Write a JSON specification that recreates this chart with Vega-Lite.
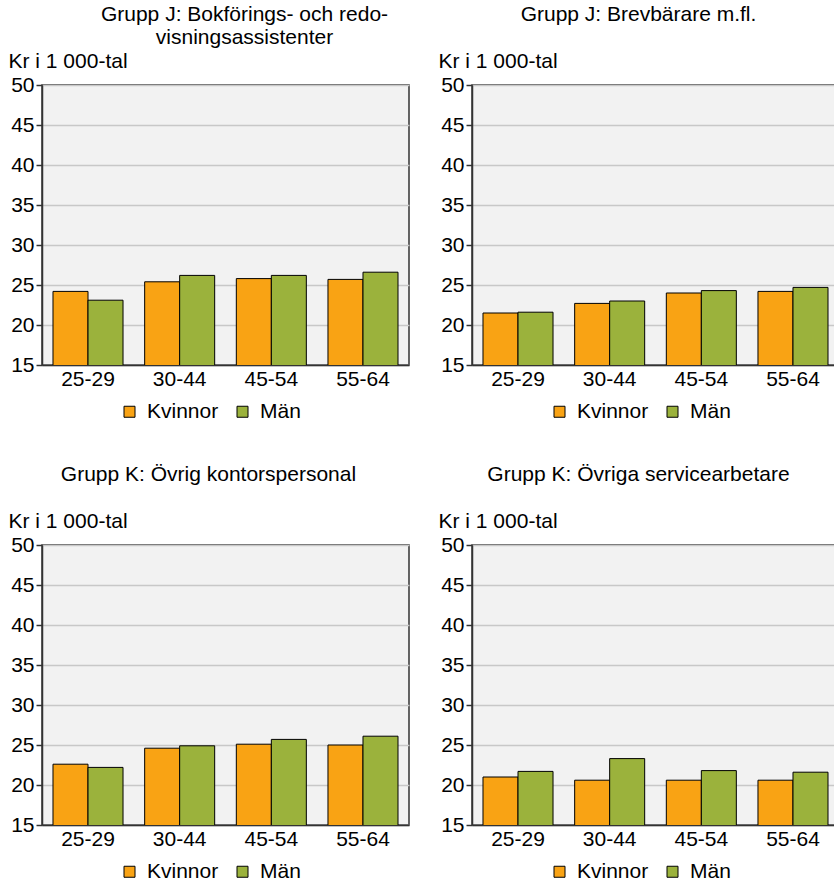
{
  "$schema": "https://vega.github.io/schema/vega-lite/v6.json",
  "padding": {"left": 7, "top": 3, "right": 0, "bottom": 0},
  "background": "white",
  "config": {
    "font": "Liberation Sans",
    "view": {"fill": "#F2F2F2", "stroke": "#333333", "strokeWidth": 1.5},
    "axis": {
      "labelFont": "Liberation Sans",
      "labelFontSize": 21,
      "labelColor": "#000000",
      "domainColor": "#333333",
      "domainWidth": 1.5,
      "tickColor": "#333333",
      "tickWidth": 1.5,
      "titleFont": "Liberation Sans",
      "titleFontSize": 21,
      "titleFontWeight": "normal",
      "titleColor": "#000000"
    },
    "axisY": {"gridColor": "#C8C8C8", "gridWidth": 1.5, "tickSize": 6, "labelPadding": 2},
    "axisX": {"grid": false, "ticks": false, "labelPadding": 3},
    "title": {
      "fontSize": 21,
      "fontWeight": "normal",
      "color": "#000000",
      "anchor": "middle",
      "frame": "bounds",
      "lineHeight": 23,
      "offset": 2
    },
    "legend": {
      "labelFontSize": 21,
      "labelColor": "#000000",
      "labelFont": "Liberation Sans"
    }
  },
  "data": {
    "values": [
      {"grupp": "J1", "alder": "25-29", "kon": "Kvinnor", "lon": 24.2},
      {"grupp": "J1", "alder": "25-29", "kon": "Män", "lon": 23.1},
      {"grupp": "J1", "alder": "30-44", "kon": "Kvinnor", "lon": 25.4},
      {"grupp": "J1", "alder": "30-44", "kon": "Män", "lon": 26.2},
      {"grupp": "J1", "alder": "45-54", "kon": "Kvinnor", "lon": 25.8},
      {"grupp": "J1", "alder": "45-54", "kon": "Män", "lon": 26.2},
      {"grupp": "J1", "alder": "55-64", "kon": "Kvinnor", "lon": 25.7},
      {"grupp": "J1", "alder": "55-64", "kon": "Män", "lon": 26.6},
      {"grupp": "J2", "alder": "25-29", "kon": "Kvinnor", "lon": 21.5},
      {"grupp": "J2", "alder": "25-29", "kon": "Män", "lon": 21.6},
      {"grupp": "J2", "alder": "30-44", "kon": "Kvinnor", "lon": 22.7},
      {"grupp": "J2", "alder": "30-44", "kon": "Män", "lon": 23.0},
      {"grupp": "J2", "alder": "45-54", "kon": "Kvinnor", "lon": 24.0},
      {"grupp": "J2", "alder": "45-54", "kon": "Män", "lon": 24.3},
      {"grupp": "J2", "alder": "55-64", "kon": "Kvinnor", "lon": 24.2},
      {"grupp": "J2", "alder": "55-64", "kon": "Män", "lon": 24.7},
      {"grupp": "K1", "alder": "25-29", "kon": "Kvinnor", "lon": 22.6},
      {"grupp": "K1", "alder": "25-29", "kon": "Män", "lon": 22.2},
      {"grupp": "K1", "alder": "30-44", "kon": "Kvinnor", "lon": 24.6},
      {"grupp": "K1", "alder": "30-44", "kon": "Män", "lon": 24.9},
      {"grupp": "K1", "alder": "45-54", "kon": "Kvinnor", "lon": 25.1},
      {"grupp": "K1", "alder": "45-54", "kon": "Män", "lon": 25.7},
      {"grupp": "K1", "alder": "55-64", "kon": "Kvinnor", "lon": 25.0},
      {"grupp": "K1", "alder": "55-64", "kon": "Män", "lon": 26.1},
      {"grupp": "K2", "alder": "25-29", "kon": "Kvinnor", "lon": 21.0},
      {"grupp": "K2", "alder": "25-29", "kon": "Män", "lon": 21.7},
      {"grupp": "K2", "alder": "30-44", "kon": "Kvinnor", "lon": 20.6},
      {"grupp": "K2", "alder": "30-44", "kon": "Män", "lon": 23.3},
      {"grupp": "K2", "alder": "45-54", "kon": "Kvinnor", "lon": 20.6},
      {"grupp": "K2", "alder": "45-54", "kon": "Män", "lon": 21.8},
      {"grupp": "K2", "alder": "55-64", "kon": "Kvinnor", "lon": 20.6},
      {"grupp": "K2", "alder": "55-64", "kon": "Män", "lon": 21.6}
    ]
  },
  "columns": 2,
  "spacing": {"row": 40, "column": 27},
  "resolve": {"legend": {"color": "independent"}},
  "concat": [
    {
      "title": {"text": ["Grupp J: Bokförings- och redo-", "visningsassistenter"], "dx": 36},
      "transform": [{"filter": "datum.grupp == 'J1'"}],
      "width": 367, "height": 280,
      "mark": {"type": "bar", "stroke": "#000000", "strokeWidth": 1, "clip": true},
      "encoding": {
        "x": {"field": "alder", "type": "nominal", "sort": null, "scale": {"paddingInner": 0.236, "paddingOuter": 0.12}, "axis": {"title": null, "labelAngle": 0}},
        "xOffset": {"field": "kon", "type": "nominal", "sort": ["Kvinnor", "Män"], "scale": {"paddingInner": 0, "paddingOuter": 0}},
        "y": {"field": "lon", "type": "quantitative", "scale": {"domain": [15, 50], "zero": false, "nice": false}, "axis": {"values": [15, 20, 25, 30, 35, 40, 45, 50], "title": "Kr i 1 000-tal", "titleAngle": 0, "titleAlign": "left", "titleBaseline": "alphabetic", "titleX": -34, "titleY": -18}},
        "color": {"field": "kon", "type": "nominal", "sort": ["Kvinnor", "Män"], "scale": {"domain": ["Kvinnor", "Män"], "range": ["#F9A314", "#9BB23C"]}, "legend": {"title": null, "orient": "none", "direction": "horizontal", "legendX": 77, "legendY": 316, "padding": 0, "symbolType": "square", "symbolSize": 121, "symbolStrokeColor": "#000000", "symbolStrokeWidth": 1, "labelOffset": 7, "columnPadding": 13}}
      }
    },
    {
      "title": {"text": ["Grupp J: Brevbärare m.fl.", " "]},
      "transform": [{"filter": "datum.grupp == 'J2'"}],
      "width": 367, "height": 280,
      "mark": {"type": "bar", "stroke": "#000000", "strokeWidth": 1, "clip": true},
      "encoding": {
        "x": {"field": "alder", "type": "nominal", "sort": null, "scale": {"paddingInner": 0.236, "paddingOuter": 0.12}, "axis": {"title": null, "labelAngle": 0}},
        "xOffset": {"field": "kon", "type": "nominal", "sort": ["Kvinnor", "Män"], "scale": {"paddingInner": 0, "paddingOuter": 0}},
        "y": {"field": "lon", "type": "quantitative", "scale": {"domain": [15, 50], "zero": false, "nice": false}, "axis": {"values": [15, 20, 25, 30, 35, 40, 45, 50], "title": "Kr i 1 000-tal", "titleAngle": 0, "titleAlign": "left", "titleBaseline": "alphabetic", "titleX": -34, "titleY": -18}},
        "color": {"field": "kon", "type": "nominal", "sort": ["Kvinnor", "Män"], "scale": {"domain": ["Kvinnor", "Män"], "range": ["#F9A314", "#9BB23C"]}, "legend": {"title": null, "orient": "none", "direction": "horizontal", "legendX": 77, "legendY": 316, "padding": 0, "symbolType": "square", "symbolSize": 121, "symbolStrokeColor": "#000000", "symbolStrokeWidth": 1, "labelOffset": 7, "columnPadding": 13}}
      }
    },
    {
      "title": {"text": ["Grupp K: Övrig kontorspersonal", " "]},
      "transform": [{"filter": "datum.grupp == 'K1'"}],
      "width": 367, "height": 280,
      "mark": {"type": "bar", "stroke": "#000000", "strokeWidth": 1, "clip": true},
      "encoding": {
        "x": {"field": "alder", "type": "nominal", "sort": null, "scale": {"paddingInner": 0.236, "paddingOuter": 0.12}, "axis": {"title": null, "labelAngle": 0}},
        "xOffset": {"field": "kon", "type": "nominal", "sort": ["Kvinnor", "Män"], "scale": {"paddingInner": 0, "paddingOuter": 0}},
        "y": {"field": "lon", "type": "quantitative", "scale": {"domain": [15, 50], "zero": false, "nice": false}, "axis": {"values": [15, 20, 25, 30, 35, 40, 45, 50], "title": "Kr i 1 000-tal", "titleAngle": 0, "titleAlign": "left", "titleBaseline": "alphabetic", "titleX": -34, "titleY": -18}},
        "color": {"field": "kon", "type": "nominal", "sort": ["Kvinnor", "Män"], "scale": {"domain": ["Kvinnor", "Män"], "range": ["#F9A314", "#9BB23C"]}, "legend": {"title": null, "orient": "none", "direction": "horizontal", "legendX": 77, "legendY": 316, "padding": 0, "symbolType": "square", "symbolSize": 121, "symbolStrokeColor": "#000000", "symbolStrokeWidth": 1, "labelOffset": 7, "columnPadding": 13}}
      }
    },
    {
      "title": {"text": ["Grupp K: Övriga servicearbetare", " "]},
      "transform": [{"filter": "datum.grupp == 'K2'"}],
      "width": 367, "height": 280,
      "mark": {"type": "bar", "stroke": "#000000", "strokeWidth": 1, "clip": true},
      "encoding": {
        "x": {"field": "alder", "type": "nominal", "sort": null, "scale": {"paddingInner": 0.236, "paddingOuter": 0.12}, "axis": {"title": null, "labelAngle": 0}},
        "xOffset": {"field": "kon", "type": "nominal", "sort": ["Kvinnor", "Män"], "scale": {"paddingInner": 0, "paddingOuter": 0}},
        "y": {"field": "lon", "type": "quantitative", "scale": {"domain": [15, 50], "zero": false, "nice": false}, "axis": {"values": [15, 20, 25, 30, 35, 40, 45, 50], "title": "Kr i 1 000-tal", "titleAngle": 0, "titleAlign": "left", "titleBaseline": "alphabetic", "titleX": -34, "titleY": -18}},
        "color": {"field": "kon", "type": "nominal", "sort": ["Kvinnor", "Män"], "scale": {"domain": ["Kvinnor", "Män"], "range": ["#F9A314", "#9BB23C"]}, "legend": {"title": null, "orient": "none", "direction": "horizontal", "legendX": 77, "legendY": 316, "padding": 0, "symbolType": "square", "symbolSize": 121, "symbolStrokeColor": "#000000", "symbolStrokeWidth": 1, "labelOffset": 7, "columnPadding": 13}}
      }
    }
  ]
}
